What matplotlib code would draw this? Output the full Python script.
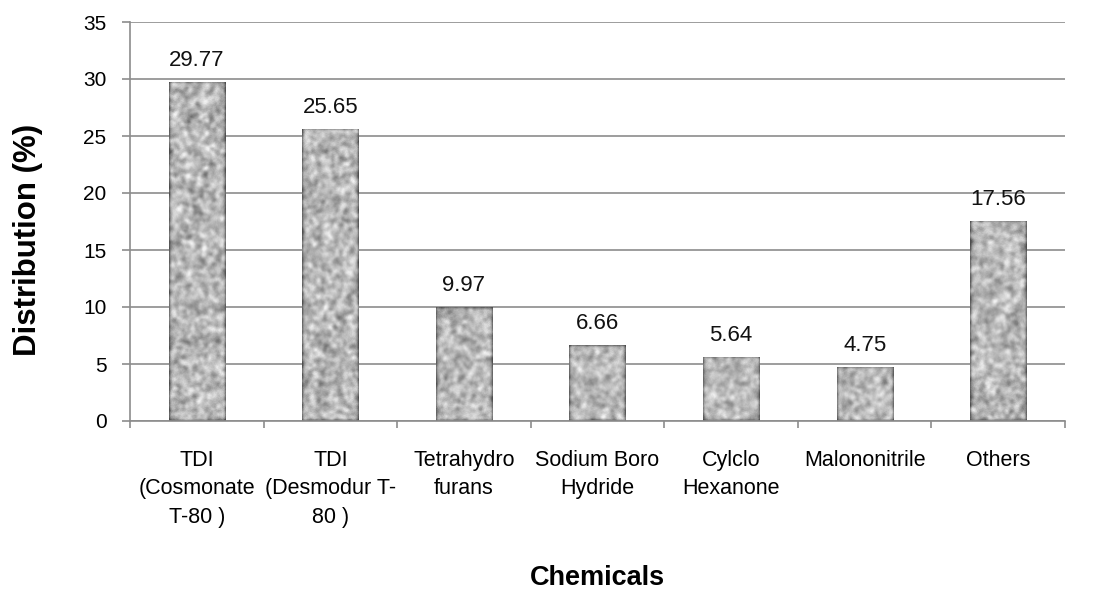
import numpy as np
import matplotlib
matplotlib.use('Agg')
from matplotlib import pyplot as plt

plt.rcParams['font.family'] = ['Liberation Sans', 'DejaVu Sans']

chemicals = ['TDI\n(Cosmonate\nT-80 )', 'TDI\n(Desmodur T-\n80 )', 'Tetrahydro\nfurans',
             'Sodium Boro\nHydride', 'Cylclo\nHexanone', 'Malononitrile', 'Others']
distribution = [29.77, 25.65, 9.97, 6.66, 5.64, 4.75, 17.56]
value_labels = ['29.77', '25.65', '9.97', '6.66', '5.64', '4.75', '17.56']


def granite(h, w, seed):
    # smoothed noise for the stone-like bar fill
    rng = np.random.default_rng(seed)
    n = rng.random((h, w))
    k = np.exp(-0.5 * (np.arange(-5, 6) / 1.8) ** 2)
    k /= k.sum()
    n = np.apply_along_axis(lambda r: np.convolve(r, k, mode='same'), 0, n)
    n = np.apply_along_axis(lambda r: np.convolve(r, k, mode='same'), 1, n)
    n = (n - n.mean()) / n.std()
    fine = rng.random((h, w)) - 0.5
    img = 0.70 + 0.10 * n + 0.05 * fine
    return np.clip(img, 0.3, 0.95)


fig = plt.figure(figsize=(10.96, 5.94), dpi=100)
ax = fig.add_axes([130 / 1096, 173 / 594, 935 / 1096, 399 / 594])

x = np.arange(len(chemicals))
bars = ax.bar(x, distribution, width=0.42, color='none', edgecolor='none', zorder=2)
for i, b in enumerate(bars):
    h = int(b.get_height() * 11.4) + 2
    img = granite(h, 58, i + 3)
    im = ax.imshow(img, cmap='gray', vmin=0, vmax=1, aspect='auto', interpolation='bilinear',
                   extent=(b.get_x(), b.get_x() + b.get_width(), 0, b.get_height()), zorder=2)
    im.set_clip_path(b)
    ax.annotate(value_labels[i], (b.get_x() + b.get_width() / 2, b.get_height()),
                xytext=(0, 11.5), textcoords='offset points',
                ha='center', va='baseline', fontsize=16, color='#111111')

ax.set_xlim(-0.5, len(chemicals) - 0.5)
ax.set_ylim(0, 35)
ax.set_yticks(np.arange(0, 36, 5))
ax.yaxis.grid(True, color='#8c8c8c', linewidth=1.2, zorder=0)
ax.set_axisbelow(True)

ax.set_xticks(x)
ax.set_xticklabels(chemicals, fontsize=15.5, linespacing=1.45)
ax.set_xticks(np.arange(-0.5, len(chemicals)), minor=True)
ax.tick_params(axis='x', which='major', length=0, pad=21)
ax.tick_params(axis='x', which='minor', length=5, width=1.2, color='#8c8c8c')
ax.tick_params(axis='y', length=6, width=1.2, color='#8c8c8c', labelsize=15, pad=11)

for s in ['top', 'right']:
    ax.spines[s].set_visible(False)
for s in ['left', 'bottom']:
    ax.spines[s].set_color('#8c8c8c')
    ax.spines[s].set_linewidth(1.2)

fig.text(28 / 1096, 1 - 240 / 594, 'Distribution (%)', rotation=90, ha='center', va='center',
         fontsize=22.5, fontweight='bold')
fig.text(597 / 1096, 1 - 578 / 594, 'Chemicals', ha='center', va='center',
         fontsize=19.5, fontweight='bold')

fig.savefig('out.png', dpi=100)
